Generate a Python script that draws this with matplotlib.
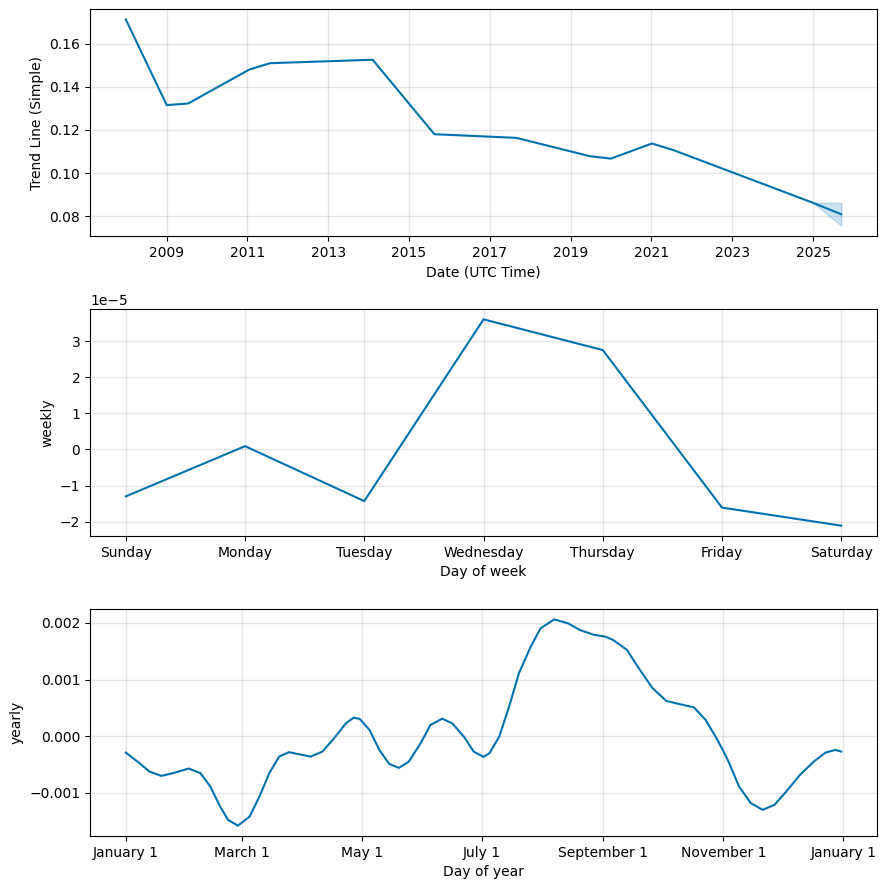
import numpy as np
import pandas as pd
import matplotlib
matplotlib.use("Agg")
import matplotlib.pyplot as plt
import matplotlib.dates as mdates
from matplotlib.ticker import FuncFormatter

# trend component (changepoints)
trend_dates = ["2007-12-28", "2009-01-01", "2009-07-12", "2011-01-20", "2011-07-24",
               "2014-02-06", "2015-08-18", "2017-08-28", "2019-06-25", "2020-01-01",
               "2021-01-05", "2021-07-20", "2025-01-01", "2025-09-13"]
trend_vals = [0.1712, 0.1315, 0.1322, 0.1480, 0.1509,
              0.1525, 0.1180, 0.1163, 0.1078, 0.1067,
              0.1137, 0.1106, 0.0862, 0.0809]
# forecast uncertainty band
band_dates = ["2025-01-01", "2025-09-13"]
band_lower = [0.0862, 0.0756]
band_upper = [0.0862, 0.0862]
trend_tick_years = [2009, 2011, 2013, 2015, 2017, 2019, 2021, 2023, 2025]

# weekly component
week_days = ["Sunday", "Monday", "Tuesday", "Wednesday", "Thursday", "Friday", "Saturday"]
weekly_vals = [-1.30e-5, 0.09e-5, -1.43e-5, 3.60e-5, 2.75e-5, -1.61e-5, -2.11e-5]

# yearly component: day offset from Jan 1, value
yearly_day = [0, 7, 12, 18, 24, 32, 38, 43, 48, 52, 57, 63, 68, 73, 78, 83, 88, 94,
              100, 106, 112, 116, 119, 124, 129, 134, 139, 144, 150, 155, 161, 166,
              172, 177, 182, 185, 190, 195, 200, 206, 211, 218, 225, 231, 238, 244,
              248, 255, 261, 268, 275, 282, 289, 295, 301, 305, 307, 312, 318, 324,
              330, 336, 343, 350, 356, 361, 364]
yearly_val = [-0.289, -0.476, -0.624, -0.700, -0.653, -0.571, -0.653, -0.889, -1.242,
              -1.476, -1.580, -1.418, -1.065, -0.653, -0.360, -0.282, -0.317, -0.360,
              -0.272, -0.035, 0.229, 0.328, 0.305, 0.111, -0.242, -0.489, -0.559,
              -0.448, -0.123, 0.199, 0.310, 0.229, -0.007, -0.272, -0.365, -0.300,
              -0.007, 0.522, 1.111, 1.580, 1.905, 2.063, 1.993, 1.875, 1.792, 1.757,
              1.698, 1.522, 1.199, 0.847, 0.623, 0.564, 0.511, 0.287, -0.065, -0.330,
              -0.476, -0.889, -1.182, -1.300, -1.212, -0.977, -0.683, -0.448, -0.289,
              -0.242, -0.272]

col = '#0072B2'

fig = plt.figure(figsize=(8.86, 8.89), dpi=100)
ax1 = fig.add_axes([0.1016, 0.7345, 0.8883, 0.2553])
ax2 = fig.add_axes([0.1016, 0.3971, 0.8883, 0.2553])
ax3 = fig.add_axes([0.1016, 0.0596, 0.8883, 0.2553])

# trend
td = pd.to_datetime(trend_dates)
ax1.plot(td, trend_vals, ls='-', c=col)
ax1.fill_between(pd.to_datetime(band_dates), band_lower, band_upper, color=col, alpha=0.2)
ax1.set_xticks([pd.Timestamp(f"{y}-01-01") for y in trend_tick_years])
ax1.xaxis.set_major_formatter(mdates.DateFormatter('%Y'))
ax1.grid(True, which='major', c='gray', ls='-', lw=1, alpha=0.2)
ax1.set_xlabel('Date (UTC Time)')
ax1.set_ylabel('Trend Line (Simple)')

# weekly
ax2.plot(range(len(week_days)), weekly_vals, ls='-', c=col)
ax2.set_xticks(range(len(week_days)))
ax2.set_xticklabels(week_days)
ax2.grid(True, which='major', c='gray', ls='-', lw=1, alpha=0.2)
ax2.set_xlabel('Day of week')
ax2.set_ylabel('weekly')

# yearly
yd = pd.Timestamp('2017-01-01') + pd.to_timedelta(yearly_day, unit='D')
ax3.plot(yd, np.array(yearly_val) * 1e-3, ls='-', c=col)
ax3.xaxis.set_major_locator(mdates.MonthLocator(bymonth=[1, 3, 5, 7, 9, 11], bymonthday=1))
ax3.xaxis.set_major_formatter(FuncFormatter(
    lambda x, pos=None: '{dt:%B} {dt.day}'.format(dt=mdates.num2date(x))))
ax3.grid(True, which='major', c='gray', ls='-', lw=1, alpha=0.2)
ax3.set_xlabel('Day of year')
ax3.set_ylabel('yearly')

fig.savefig('out.png', dpi=100)
